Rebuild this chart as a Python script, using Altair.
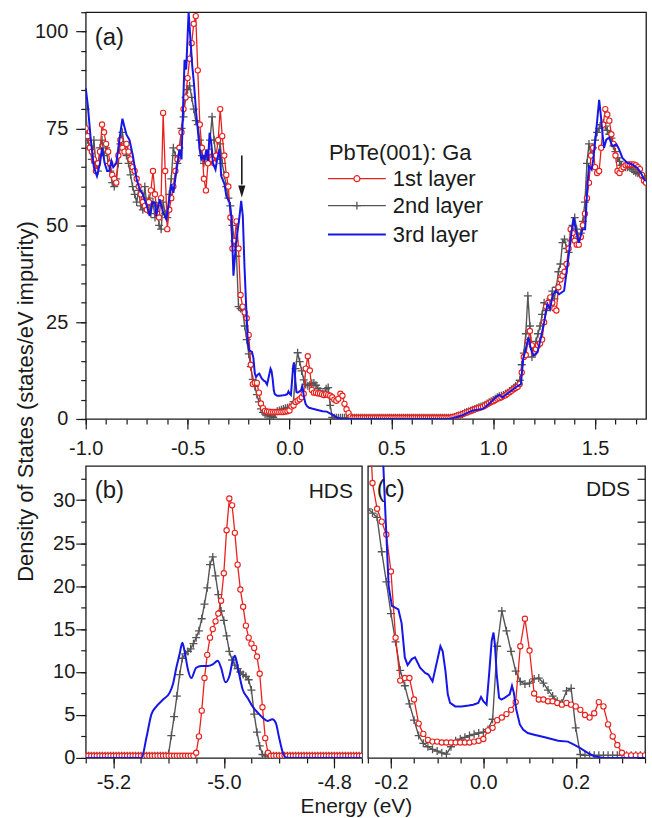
import altair as alt
import pandas as pd

FONT = "Liberation Sans"
INK = "#1a1a1a"
RED = "#e8211d"
GRAY = "#555555"
BLUE = "#1616e6"

# ---------------- panel (a) and (c): energy grid (eV) of 1st / 2nd layer ----------------
E_A = [round(-1.0 + 0.01 * i, 2) for i in range(276)]

RED_A = [
    # -1.00 .. -0.91
    75, 73, 70, 69, 67, 64, 66, 69, 76, 74,
    # -0.90 .. -0.81
    71, 69, 66, 63, 62, 61, 68, 72, 70, 69,
    # -0.80 .. -0.71
    71, 69, 67, 65, 64, 62, 60, 58, 56, 55,
    # -0.70 .. -0.61
    54, 56, 59, 64, 58, 53, 52, 57, 79, 64,
    # -0.60 .. -0.51
    49, 54, 57, 60, 64, 67, 70, 74, 80, 83,
    # -0.50 .. -0.41
    88, 93, 97, 102, 104, 90, 76, 70, 62, 59,
    # -0.40 .. -0.31
    66, 69, 67, 66, 68, 72, 80, 73, 68, 63,
    # -0.30 .. -0.21
    60, 52, 44, 46, 51, 44, 32, 29, 27.5, 26,
    # -0.20 .. -0.11
    21.7, 14, 9.0, 9.3, 9.3, 6.8, 4.0, 2.8, 2.1, 1.9,
    # -0.10 .. -0.01
    1.9, 1.8, 1.8, 1.8, 1.8, 1.8, 1.8, 1.8, 1.9, 2.0,
    # 0.00 .. 0.09
    2.2, 3.2, 3.5, 4.4, 4.7, 5.1, 5.6, 6.5, 13, 16.2,
    # 0.10 .. 0.19
    12.5, 7.5, 6.8, 6.8, 6.6, 6.6, 6.4, 6.2, 6.4, 6.2,
    # 0.20 .. 0.29
    6.0, 5.6, 5.0, 4.7, 5.2, 6.5, 6.0, 3.9, 2.5, 1.5,
    # 0.30 .. 0.39
    0.6, 0.3, 0.3, 0.3, 0.3, 0.3, 0.3, 0.3, 0.3, 0.3,
    # 0.40 .. 0.49
    0.3, 0.3, 0.3, 0.3, 0.3, 0.3, 0.3, 0.3, 0.3, 0.3,
    # 0.50 .. 0.59
    0.3, 0.3, 0.3, 0.3, 0.3, 0.3, 0.3, 0.3, 0.3, 0.3,
    # 0.60 .. 0.69
    0.3, 0.3, 0.3, 0.3, 0.3, 0.3, 0.3, 0.3, 0.3, 0.3,
    # 0.70 .. 0.79
    0.3, 0.3, 0.3, 0.3, 0.3, 0.3, 0.3, 0.3, 0.3, 0.3,
    # 0.80 .. 0.89
    0.5, 0.6, 0.8, 1.0, 1.1, 1.3, 1.5, 1.7, 1.9, 2.1,
    # 0.90 .. 0.99
    2.3, 2.5, 2.7, 2.9, 3.0, 3.2, 3.5, 3.8, 4.1, 4.4,
    # 1.00 .. 1.09
    4.6, 4.9, 5.2, 5.4, 5.6, 5.9, 6.1, 6.5, 6.9, 7.3,
    # 1.10 .. 1.19
    7.7, 8.0, 8.3, 9.0, 12, 16, 16.5, 20, 22.7, 19,
    # 1.20 .. 1.29
    17, 18, 19, 19.5, 20.5, 25, 29, 30, 31.4, 30,
    # 1.30 .. 1.39
    28.5, 28, 34, 36, 37, 38, 40, 44, 49, 48,
    # 1.40 .. 1.49
    46, 45, 45, 47, 50, 53, 57, 61, 68, 70,
    # 1.50 .. 1.59
    65, 63.5, 64, 70, 76, 80, 78.6, 77, 73.5, 71,
    # 1.60 .. 1.69
    68, 64, 63.5, 64.5, 65, 65.5, 65.7, 65.7, 65.7, 65.7,
    # 1.70 .. 1.75
    65.5, 65, 64.5, 63, 61.5, 61,
]

GRAY_A = [
    # -1.00 .. -0.91
    80, 72, 70, 67, 72, 66, 64, 70, 72, 68,
    # -0.90 .. -0.81
    70, 66, 64, 61, 60, 62, 66, 71, 74, 70,
    # -0.80 .. -0.71
    68, 66, 63, 60, 58, 56, 59, 55, 54, 60,
    # -0.70 .. -0.61
    55, 57, 53, 56, 52, 55, 50, 49, 56, 53,
    # -0.60 .. -0.51
    52, 58, 62, 70, 68, 66, 70, 75, 78, 83,
    # -0.50 .. -0.41
    85, 86, 83, 80, 77, 76, 72, 68, 66, 68,
    # -0.40 .. -0.31
    67, 72, 78, 72, 67, 68, 71, 66, 63, 60,
    # -0.30 .. -0.21
    57, 55, 50, 46, 42, 29, 28.5, 28, 24, 20.5,
    # -0.20 .. -0.11
    16.8, 13.5, 10.2, 8.4, 6.3, 4.4, 2.6, 1.7, 1.3, 1.0,
    # -0.10 .. -0.01
    0.8, 0.6, 0.45, 1.3, 2.0, 2.2, 2.4, 2.6, 2.75, 2.9,
    # 0.00 .. 0.09
    3.0, 3.3, 4.5, 13, 17.1, 14.8, 12.4, 10.1, 8.9, 8.6,
    # 0.10 .. 0.19
    8.7, 9.2, 9.3, 8.7, 7.9, 7.2, 6.6, 6.4, 7.8, 8.1,
    # 0.20 .. 0.29
    3.5, 0.4, 0.3, 0.3, 0.3, 0.3, 0.3, 0.3, 0.3, 0.3,
    # 0.30 .. 0.39
    0.3, 0.3, 0.3, 0.3, 0.3, 0.3, 0.3, 0.3, 0.3, 0.3,
    # 0.40 .. 0.49
    0.3, 0.3, 0.3, 0.3, 0.3, 0.3, 0.3, 0.3, 0.3, 0.3,
    # 0.50 .. 0.59
    0.3, 0.3, 0.3, 0.3, 0.3, 0.3, 0.3, 0.3, 0.3, 0.3,
    # 0.60 .. 0.69
    0.3, 0.3, 0.3, 0.3, 0.3, 0.3, 0.3, 0.3, 0.3, 0.3,
    # 0.70 .. 0.79
    0.3, 0.3, 0.3, 0.3, 0.3, 0.3, 0.3, 0.3, 0.3, 0.3,
    # 0.80 .. 0.89
    0.3, 0.5, 0.7, 0.9, 1.1, 1.3, 1.6, 1.8, 2.0, 2.2,
    # 0.90 .. 0.99
    2.4, 2.6, 2.8, 3.0, 3.2, 3.4, 3.7, 4.0, 4.3, 4.6,
    # 1.00 .. 1.09
    4.9, 5.2, 5.6, 5.9, 6.0, 6.2, 6.5, 6.8, 7.2, 7.6,
    # 1.10 .. 1.19
    8.0, 8.5, 9.0, 10, 14, 17, 22, 31.8, 24, 16,
    # 1.20 .. 1.29
    18, 20, 22, 24, 27, 30, 28, 30, 31, 33,
    # 1.30 .. 1.39
    31, 34, 38, 40, 45.5, 46.4, 44, 43, 46, 50,
    # 1.40 .. 1.49
    52, 49, 47, 48, 51, 56, 66, 71, 68, 70,
    # 1.50 .. 1.59
    72, 74, 75, 76, 76.4, 75.6, 74.5, 73.5, 72.5, 70.5,
    # 1.60 .. 1.69
    69, 67.4, 66.5, 65.5, 65, 65, 65, 64.9, 64.5, 64,
    # 1.70 .. 1.75
    63.6, 63.4, 63.2, 62.8, 62.2, 61.9,
]

# 3rd layer: (energy, DOS) pairs
BLUE_A = [
    (-1.000, 85.4), (-0.990, 81.0), (-0.975, 72.0), (-0.960, 65.0), (-0.945, 62.7),
    (-0.930, 66.0), (-0.920, 70.0), (-0.907, 66.0), (-0.895, 64.0), (-0.885, 64.0),
    (-0.874, 66.6), (-0.865, 65.0), (-0.850, 66.0), (-0.835, 72.0), (-0.820, 77.5),
    (-0.800, 73.4), (-0.785, 72.0), (-0.768, 67.8), (-0.750, 61.8), (-0.735, 59.3),
    (-0.720, 58.0), (-0.700, 55.0), (-0.686, 52.4), (-0.673, 56.0), (-0.660, 55.8),
    (-0.654, 52.4), (-0.637, 56.7), (-0.620, 53.3), (-0.605, 51.6), (-0.597, 54.0),
    (-0.580, 60.6), (-0.570, 58.4), (-0.556, 63.6), (-0.540, 69.6), (-0.530, 67.0),
    (-0.515, 92.7), (-0.507, 90.2), (-0.495, 105.0), (-0.487, 98.7), (-0.477, 91.0),
    (-0.469, 86.7), (-0.458, 79.0), (-0.450, 74.7), (-0.441, 69.6), (-0.433, 67.0),
    (-0.425, 67.9), (-0.417, 67.0), (-0.408, 69.6), (-0.400, 66.6), (-0.392, 73.9),
    (-0.384, 71.3), (-0.376, 66.1), (-0.363, 64.4), (-0.355, 67.0), (-0.343, 69.6),
    (-0.335, 62.7), (-0.319, 60.6), (-0.310, 57.6), (-0.294, 55.9), (-0.285, 52.0),
    (-0.275, 37.0), (-0.262, 45.6), (-0.245, 52.4), (-0.237, 56.3), (-0.229, 52.4),
    (-0.221, 39.6), (-0.212, 28.4), (-0.205, 20.0), (-0.198, 17.7), (-0.184, 17.3),
    (-0.177, 15.7), (-0.170, 11.7), (-0.164, 10.8), (-0.155, 11.5), (-0.148, 11.7),
    (-0.137, 10.5), (-0.126, 9.9), (-0.119, 9.7), (-0.110, 8.9), (-0.100, 11.3),
    (-0.093, 13.0), (-0.088, 12.4), (-0.082, 10.1), (-0.077, 7.4), (-0.072, 6.4),
    (-0.061, 6.0), (-0.047, 6.0), (-0.032, 6.1), (-0.022, 6.2), (-0.011, 6.4),
    (-0.005, 7.1), (0.000, 6.6), (0.007, 6.2), (0.013, 10.1), (0.018, 13.6),
    (0.022, 14.6), (0.025, 13.2), (0.029, 9.7), (0.034, 7.0), (0.039, 6.8),
    (0.046, 7.0), (0.057, 7.4), (0.062, 8.4), (0.066, 7.6), (0.071, 5.7),
    (0.079, 3.9), (0.086, 3.3), (0.096, 2.9), (0.110, 2.7), (0.133, 2.4),
    (0.162, 2.0), (0.183, 1.9), (0.194, 1.6), (0.208, 1.2), (0.226, 0.6),
    (0.240, 0.2), (0.260, 0.0), (0.350, 0.0), (0.780, 0.0), (0.800, 0.2),
    (0.850, 1.0), (0.900, 2.2), (0.950, 2.6), (0.980, 3.9), (1.013, 5.6),
    (1.029, 6.2), (1.046, 5.6), (1.078, 6.9), (1.111, 8.2), (1.136, 9.0),
    (1.147, 15.5), (1.160, 18.1), (1.173, 21.1), (1.185, 18.1), (1.198, 16.4),
    (1.217, 17.2), (1.233, 20.7), (1.250, 25.0), (1.266, 29.7), (1.279, 28.4),
    (1.291, 31.8), (1.307, 33.1), (1.323, 32.2), (1.348, 33.1), (1.364, 39.5),
    (1.380, 46.4), (1.394, 52.0), (1.405, 49.0), (1.420, 45.5), (1.438, 49.0),
    (1.451, 49.0), (1.462, 60.1), (1.470, 65.3), (1.483, 64.4), (1.491, 67.0),
    (1.503, 73.0), (1.520, 82.4), (1.527, 79.0), (1.536, 73.8), (1.544, 70.0),
    (1.555, 72.1), (1.569, 72.6), (1.585, 70.4), (1.605, 70.9), (1.618, 69.6),
    (1.634, 67.4), (1.658, 66.1), (1.683, 65.7), (1.707, 64.8), (1.724, 63.6),
    (1.740, 61.9), (1.750, 61.4),
]

# ---------------- panel (b): HDS ----------------
E_B = [round(-5.25 + 0.005 * i, 3) for i in range(101)]

RED_B = [
    0.25, 0.25, 0.25, 0.25, 0.25, 0.25, 0.25, 0.25, 0.25, 0.25,
    0.25, 0.25, 0.25, 0.25, 0.25, 0.25, 0.25, 0.25, 0.25, 0.25,
    0.25, 0.25, 0.25, 0.25, 0.25, 0.25, 0.25, 0.25, 0.25, 0.25,
    0.25, 0.25, 0.25, 0.25, 0.25, 0.25, 0.25, 0.25, 0.25, 0.25,
    0.6, 2.5, 5.5, 9.3, 12.0, 14.0, 15.0, 15.9, 16.8, 18.3,
    21.5, 26.5, 30.2, 29.4, 26.2, 22.5, 19.6, 17.6, 15.4, 14.0,
    13.3, 12.8, 11.8, 9.8, 5.9, 2.3, 0.6, 0.25, 0.25, 0.25,
    0.25, 0.25, 0.25, 0.25, 0.25, 0.25, 0.25, 0.25, 0.25, 0.25,
    0.25, 0.25, 0.25, 0.25, 0.25, 0.25, 0.25, 0.25, 0.25, 0.25,
    0.25, 0.25, 0.25, 0.25, 0.25, 0.25, 0.25, 0.25, 0.25, 0.25,
    0.25,
]

GRAY_B = [
    0.25, 0.25, 0.25, 0.25, 0.25, 0.25, 0.25, 0.25, 0.25, 0.25,
    0.25, 0.25, 0.25, 0.25, 0.25, 0.25, 0.25, 0.25, 0.25, 0.25,
    0.25, 0.25, 0.25, 0.25, 0.25, 0.25, 0.25, 0.25, 0.25, 0.25,
    0.5, 2.6, 4.8, 7.2, 9.7, 11.6, 12.1, 12.4, 12.7, 13.3,
    14.0, 14.8, 16.2, 17.9, 19.8, 22.5, 23.4, 21.2, 19.0, 17.1,
    16.0, 14.2, 12.4, 11.4, 10.8, 10.4, 10.0, 9.7, 9.5, 9.1,
    7.9, 5.1, 3.0, 1.4, 0.4, 0.25, 0.25, 0.25, 0.25, 0.25,
    0.25, 0.25, 0.25, 0.25, 0.25, 0.25, 0.25, 0.25, 0.25, 0.25,
    0.25, 0.25, 0.25, 0.25, 0.25, 0.25, 0.25, 0.25, 0.25, 0.25,
    0.25, 0.25, 0.25, 0.25, 0.25, 0.25, 0.25, 0.25, 0.25, 0.25,
    0.25,
]

BLUE_B = [
    (-5.250, 0.0), (-5.149, 0.0), (-5.140, 2.4), (-5.131, 5.1), (-5.122, 6.0),
    (-5.110, 6.8), (-5.098, 7.6), (-5.092, 8.6), (-5.086, 10.5), (-5.080, 12.1),
    (-5.075, 13.4), (-5.071, 12.4), (-5.065, 10.3), (-5.059, 9.3), (-5.050, 10.5),
    (-5.041, 10.7), (-5.029, 10.7), (-5.020, 10.9), (-5.011, 11.3), (-5.005, 10.5),
    (-4.997, 8.8), (-4.990, 9.5), (-4.984, 11.3), (-4.980, 11.9), (-4.977, 11.3),
    (-4.972, 9.7), (-4.966, 8.0), (-4.957, 7.0), (-4.948, 6.0), (-4.939, 5.3),
    (-4.930, 4.7), (-4.921, 4.3), (-4.912, 4.5), (-4.906, 4.1), (-4.900, 2.4),
    (-4.894, 0.8), (-4.889, 0.1), (-4.883, 0.0), (-4.750, 0.0),
]

# annotation arrow in (a): energy, tail value, neck value, head-centre value
ARROW_E = -0.234
ARROW_TAIL = 68.0
ARROW_NECK = 60.5
ARROW_HEAD = 58.7

# tick values
XA_MAJOR = [-1.0, -0.5, 0.0, 0.5, 1.0, 1.5]
XA_MINOR = [round(-1.0 + 0.1 * i, 1) for i in range(28)]
YA_MAJOR = [0, 25, 50, 75, 100]
YA_MINOR = list(range(0, 106, 5))
XB_MAJOR = [-5.2, -5.0, -4.8]
XB_MINOR = [round(-5.25 + 0.05 * i, 2) for i in range(11)]
YB_MAJOR = [0, 5, 10, 15, 20, 25, 30]
YB_MINOR = [2.5 * i for i in range(14)]
XC_MAJOR = [-0.2, 0.0, 0.2]
XC_MINOR = [round(-0.25 + 0.05 * i, 2) for i in range(13)]

assert len(RED_A) == len(E_A) and len(GRAY_A) == len(E_A)
assert len(RED_B) == len(E_B) and len(GRAY_B) == len(E_B)

W_A, H_A = 562, 408
W_B, W_C, H_B = 277, 278, 293

PLUS = "M-1,0H1M0,-1V1"
TRI_DOWN = "M-0.6,-1L0.6,-1L0,1Z"
MINUS_FIX = "replace(format(datum.value, '.1f'), '\u2212', '-')"

df_red_a = pd.DataFrame({"E": E_A, "V": RED_A})
df_gray_a = pd.DataFrame({"E": E_A, "V": GRAY_A})
df_blue_a = pd.DataFrame(BLUE_A, columns=["E", "V"])
df_red_b = pd.DataFrame({"E": E_B, "V": RED_B})
df_gray_b = pd.DataFrame({"E": E_B, "V": GRAY_B})
df_blue_b = pd.DataFrame(BLUE_B, columns=["E", "V"])


def in_c(df):
    return df[(df["E"] >= -0.275) & (df["E"] <= 0.35)]


def inside_c(df):
    return df[(df["E"] >= -0.25) & (df["E"] <= 0.35) & (df["V"] <= 34)]


DUMMY = pd.DataFrame({"k": [0]})


def axis(orient, values, size, labels=False, pad=4, expr=None, **kw):
    opts = dict(orient=orient, values=values, tickSize=size, labels=labels,
                domain=False, grid=False, labelFlush=False, labelOverlap=False,
                labelPadding=pad, title=None)
    if expr:
        opts["labelExpr"] = expr
    opts.update(kw)
    return alt.Axis(**opts)


def text(t, x, y, size, align="left"):
    return alt.Chart(DUMMY).mark_text(
        text=t, font=FONT, fontSize=size, color=INK, align=align, baseline="middle"
    ).encode(x=alt.value(x), y=alt.value(y))


def series(d_red, d_gray, d_blue, xs, ys, blue_interp="linear"):
    X = alt.X("E:Q", scale=xs, axis=None)
    Y = alt.Y("V:Q", scale=ys, axis=None)
    g_line = alt.Chart(d_gray).mark_line(color=GRAY, strokeWidth=1.4, clip=True).encode(x=X, y=Y)
    g_pts = alt.Chart(d_gray).mark_point(
        shape=PLUS, size=64, color=GRAY, filled=False, strokeWidth=1.3, opacity=1, clip=True
    ).encode(x=X, y=Y)
    r_line = alt.Chart(d_red).mark_line(color=RED, strokeWidth=1.3, clip=True).encode(x=X, y=Y)
    r_pts = alt.Chart(d_red).mark_point(
        shape="circle", size=28, filled=True, fill="white", stroke=RED,
        strokeWidth=1.1, opacity=1, clip=True
    ).encode(x=X, y=Y)
    b_line = alt.Chart(d_blue).mark_line(
        color=BLUE, strokeWidth=2.0, interpolate=blue_interp, clip=True
    ).encode(x=X, y=Y)
    return [g_line, g_pts, r_line, r_pts, b_line]


def carriers(d, xs, ys, xmaj, xmin, ymaj, ymin):
    return [
        alt.Chart(d).mark_point(opacity=0, size=1).encode(
            x=alt.X("E:Q", scale=xs, axis=xmin), y=alt.Y("V:Q", scale=ys, axis=ymin)),
        alt.Chart(d).mark_point(opacity=0, size=1).encode(
            x=alt.X("E:Q", scale=xs, axis=xmaj), y=alt.Y("V:Q", scale=ys, axis=ymaj)),
    ]


# ---------------- panel (a) ----------------
xs_a = alt.Scale(domain=[-1.0, 1.75], nice=False, zero=False)
ys_a = alt.Scale(domain=[0, 105], nice=False, zero=False)

xa_maj = axis("bottom", XA_MAJOR, 10, labels=True, pad=10, expr=MINUS_FIX)
xa_min = axis("bottom", XA_MINOR, 5)
ya_maj = axis("left", YA_MAJOR, 10, labels=True, pad=8,
              title="Density of States (states/eV impurity)",
              titleX=-53, titleY=390, titleAngle=270, titleAlign="center",
              titleBaseline="alphabetic", titleFontSize=22)
ya_min = axis("left", YA_MINOR, 5)

arrow_df = pd.DataFrame({"E": [ARROW_E], "V": [ARROW_TAIL], "V2": [ARROW_NECK], "H": [ARROW_HEAD]})
arrow_line = alt.Chart(arrow_df).mark_rule(color=INK, strokeWidth=1.6).encode(
    x=alt.X("E:Q", scale=xs_a, axis=None), y=alt.Y("V:Q", scale=ys_a, axis=None), y2="V2:Q")
arrow_head = alt.Chart(arrow_df).mark_point(
    shape=TRI_DOWN, size=144, filled=True, color=INK, opacity=1).encode(
    x=alt.X("E:Q", scale=xs_a, axis=None), y=alt.Y("H:Q", scale=ys_a, axis=None))

leg = [
    text("PbTe(001): Ga", 244, 141, 22),
    alt.Chart(DUMMY).mark_rule(color=RED, strokeWidth=1.3).encode(
        x=alt.value(243), x2=alt.value(301), y=alt.value(167)),
    alt.Chart(DUMMY).mark_point(shape="circle", size=36, filled=True, fill="white",
                                stroke=RED, strokeWidth=1.2, opacity=1).encode(
        x=alt.value(272), y=alt.value(167)),
    text("1st layer", 308, 167, 22),
    alt.Chart(DUMMY).mark_rule(color=GRAY, strokeWidth=1.4).encode(
        x=alt.value(243), x2=alt.value(301), y=alt.value(194)),
    alt.Chart(DUMMY).mark_point(shape=PLUS, size=64, filled=False, color=GRAY,
                                strokeWidth=1.3, opacity=1).encode(
        x=alt.value(272), y=alt.value(194)),
    text("2nd layer", 308, 194, 22),
    alt.Chart(DUMMY).mark_rule(color=BLUE, strokeWidth=2).encode(
        x=alt.value(243), x2=alt.value(301), y=alt.value(223)),
    text("3rd layer", 308, 223, 22),
]

panel_a = alt.layer(
    *carriers(df_gray_a, xs_a, ys_a, xa_maj, xa_min, ya_maj, ya_min),
    *series(df_red_a, df_gray_a, df_blue_a, xs_a, ys_a),
    arrow_line, arrow_head, *leg,
    text("(a)", 9, 26, 24),
).resolve_axis(x="independent", y="independent").properties(width=W_A, height=H_A)

# ---------------- panel (b) ----------------
xs_b = alt.Scale(domain=[-5.25, -4.75], nice=False, zero=False)
ys_b = alt.Scale(domain=[0, 34], nice=False, zero=False)

xb_maj = axis("bottom", XB_MAJOR, 10, labels=True, pad=5, expr=MINUS_FIX,
              title="Energy (eV)", titleX=271, titleY=55, titleAlign="center",
              titleBaseline="alphabetic", titleFontSize=21)
xb_min = axis("bottom", XB_MINOR, 5)
yb_maj = axis("left", YB_MAJOR, 10, labels=True, pad=1)
yb_min = axis("left", YB_MINOR, 5)

panel_b = alt.layer(
    *carriers(df_gray_b, xs_b, ys_b, xb_maj, xb_min, yb_maj, yb_min),
    *series(df_red_b, df_gray_b, df_blue_b, xs_b, ys_b, blue_interp="monotone"),
    text("(b)", 9, 25, 24),
    text("HDS", 268, 26, 21, align="right"),
).resolve_axis(x="independent", y="independent").properties(width=W_B, height=H_B)

# ---------------- panel (c) ----------------
xs_c = alt.Scale(domain=[-0.25, 0.35], nice=False, zero=False)
ys_c = alt.Scale(domain=[0, 34], nice=False, zero=False)

xc_maj = axis("bottom", XC_MAJOR, 10, labels=True, pad=5, expr=MINUS_FIX)
xc_min = axis("bottom", XC_MINOR, 5)
yc_in = axis("left", YB_MINOR, 8, offset=-W_C)

panel_c = alt.layer(
    *carriers(inside_c(df_gray_a), xs_c, ys_c, xc_maj, xc_min, None, yc_in),
    *series(in_c(df_red_a), in_c(df_gray_a), in_c(df_blue_a), xs_c, ys_c),
    text("(c)", 9, 24, 24),
    text("DDS", 263, 24, 21, align="right"),
).resolve_axis(x="independent", y="independent").properties(width=W_C, height=H_B)

bottom = alt.hconcat(panel_b, panel_c, spacing=6, bounds="flush")
chart = alt.vconcat(panel_a, bottom, spacing=47, bounds="flush").properties(
    padding={"left": 14, "top": 9, "right": 4, "bottom": 0}
)
chart = chart.configure_view(stroke=INK, strokeWidth=1.3).configure_axis(
    labelFont=FONT, labelFontSize=20, labelColor=INK, tickColor=INK, tickWidth=1.2,
    titleFont=FONT, titleFontSize=20, titleFontWeight="normal", titleColor=INK,
)

chart.save("out.html", embed_options={"renderer": "svg", "actions": False})
